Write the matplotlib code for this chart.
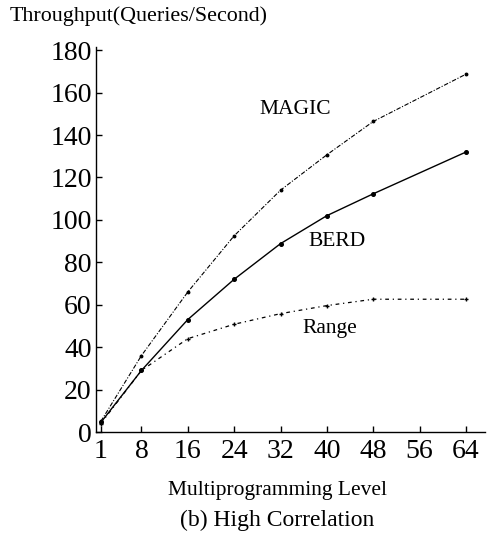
import numpy as np
import matplotlib.pyplot as plt

plt.rcParams['font.family'] = ['Liberation Serif', 'DejaVu Serif']

# multiprogramming levels
mpl_level = [1, 8, 16, 24, 32, 40, 48, 64]
xtick_vals = [1, 8, 16, 24, 32, 40, 48, 56, 64]
ytick_vals = [0, 20, 40, 60, 80, 100, 120, 140, 160, 180]

# throughput (queries/second)
magic = [5, 36, 66, 92.5, 114, 130.7, 146.4, 168.7]
berd = [4.5, 29, 53, 72, 88.8, 102, 112.3, 132]
range_ = [4, 29, 44, 50.8, 55.8, 59.6, 62.6, 62.6]

fig = plt.figure(figsize=(4.94, 5.35), dpi=100)
ax = fig.add_axes([0.194, 0.1925, 0.788, 0.72])

ax.plot(mpl_level, magic, color='black', lw=0.8, linestyle=(0, (4, 1.5, 1, 1.5)),
        marker='o', markersize=1.8)
ax.plot(mpl_level, berd, color='black', lw=1.0, linestyle='-',
        marker='o', markersize=2.6)
ax.plot(mpl_level, range_, color='black', lw=0.9, linestyle=(0, (3, 3, 1, 3)),
        marker='+', markersize=3.5)

ax.text(34.5, 152, 'MAGIC', fontsize=15.5, ha='center', va='center')
ax.text(41.8, 89.8, 'BERD', fontsize=15.5, ha='center', va='center')
ax.text(40.5, 49, 'Range', fontsize=15.5, ha='center', va='center')

ax.set_xlim(0.14, 67.3)
ax.set_ylim(0, 181.6)
ax.set_xticks(xtick_vals)
ax.set_yticks(ytick_vals)
ax.tick_params(direction='in', length=4, width=1, labelsize=20)
ax.tick_params(axis='x', pad=5)
ax.tick_params(axis='y', pad=3)
for s in ['top', 'right']:
    ax.spines[s].set_visible(False)
for s in ['left', 'bottom']:
    ax.spines[s].set_linewidth(1.0)

fig.text(0.02, 0.970, 'Throughput(Queries/Second)', fontsize=15.8, ha='left', va='center')
fig.text(0.561, 0.084, 'Multiprogramming Level', fontsize=15.5, ha='center', va='center')
fig.text(0.561, 0.028, '(b) High Correlation', fontsize=17, ha='center', va='center')

fig.savefig('out.png', dpi=100)
